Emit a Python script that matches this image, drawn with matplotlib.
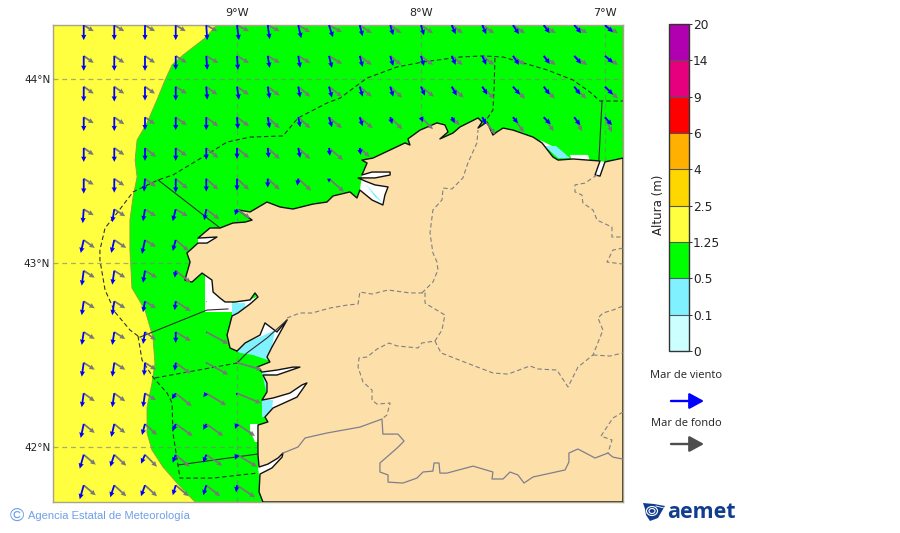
import numpy as np
import matplotlib
matplotlib.use('Agg')
import matplotlib.pyplot as plt
from matplotlib.cm import ScalarMappable
from matplotlib.colors import BoundaryNorm, ListedColormap
from matplotlib.patches import FancyArrowPatch, Polygon, Ellipse

# mapa: lon/lat
lon_ticks = [-9, -8, -7]
lon_labels = ['9°W', '8°W', '7°W']
lat_ticks = [42, 43, 44]
lat_labels = ['42°N', '43°N', '44°N']

coast_lon = [-8.859, -8.880, -8.875, -8.810, -8.755, -8.750, -8.777, -8.832, -8.880, -8.886, -8.886, -8.832, -8.848, -8.804,
             -8.674, -8.620, -8.647, -8.712, -8.804, -8.864, -8.837, -8.837, -8.859, -8.783, -8.658, -8.696, -8.783, -8.864,
             -8.891, -8.821, -8.837, -8.810, -8.728, -8.783, -8.848, -8.875, -8.956, -9.000, -9.038, -9.054, -9.027, -8.995,
             -8.929, -8.886, -8.902, -8.929, -9.011, -9.065, -9.092, -9.130, -9.136, -9.190, -9.245, -9.283, -9.255, -9.272,
             -9.212, -9.163, -9.109, -9.212, -9.147, -9.092, -9.022, -8.956, -8.918, -8.995, -8.929, -8.837, -8.766, -8.696,
             -8.587, -8.511, -8.478, -8.386, -8.348, -8.332, -8.266, -8.207, -8.196, -8.179, -8.250, -8.304, -8.342, -8.250,
             -8.168, -8.168, -8.266, -8.321, -8.293, -8.321, -8.261,
             -8.087, -8.060, -8.071, -8.005, -7.913, -7.870, -7.853, -7.897, -7.826, -7.788, -7.690, -7.668, -7.690, -7.641,
             -7.609, -7.587, -7.554, -7.500, -7.391, -7.342, -7.283, -7.255, -7.174, -7.027, -7.054, -7.027, -7.000, -6.902, -6.902]
coast_lat = [41.701, 41.755, 41.853, 41.886, 41.945, 41.967, 41.940, 41.907, 41.891, 41.956, 42.119, 42.136, 42.163, 42.212,
             42.271, 42.348, 42.337, 42.293, 42.266, 42.255, 42.299, 42.348, 42.391, 42.391, 42.434, 42.434, 42.418, 42.407,
             42.434, 42.462, 42.489, 42.543, 42.690, 42.625, 42.674, 42.608, 42.565, 42.521, 42.538, 42.608, 42.712, 42.728,
             42.777, 42.815, 42.837, 42.799, 42.788, 42.788, 42.809, 42.842, 42.907, 42.945, 42.896, 42.907, 43.005, 43.054,
             43.108, 43.108, 43.141, 43.135, 43.190, 43.190, 43.217, 43.222, 43.233, 43.288, 43.277, 43.331, 43.304, 43.293,
             43.320, 43.331, 43.364, 43.386, 43.353, 43.396, 43.342, 43.315, 43.369, 43.413, 43.424, 43.445, 43.462, 43.462,
             43.478, 43.494, 43.494, 43.478, 43.543, 43.559, 43.570,
             43.652, 43.641, 43.674, 43.722, 43.761, 43.750, 43.712, 43.674, 43.706, 43.739, 43.788, 43.766, 43.733, 43.766,
             43.695, 43.712, 43.733, 43.722, 43.684, 43.652, 43.576, 43.559, 43.565, 43.554, 43.478, 43.472, 43.549, 43.570, 41.701]

# limite amarillo / verde
band_lon = [-9.109, -9.174, -9.293, -9.353, -9.391, -9.435, -9.489, -9.543, -9.554, -9.543, -9.565, -9.582, -9.582,
            -9.571, -9.500, -9.457, -9.446, -9.462, -9.489, -9.489, -9.462, -9.402, -9.326, -9.228, -6.902, -6.902]
band_lat = [44.293, 44.222, 44.130, 44.076, 43.994, 43.886, 43.761, 43.668, 43.559, 43.467, 43.358, 43.233, 43.070,
            42.864, 42.744, 42.597, 42.456, 42.347, 42.217, 42.076, 41.983, 41.891, 41.804, 41.701, 41.701, 44.293]

# zonas sin dato y rias
white_zones = [
    ([-9.174, -9.027, -9.027, -9.174], [42.934, 42.934, 42.733, 42.733]),
    ([-9.027, -8.929, -8.886, -8.929, -8.995, -9.027], [42.782, 42.799, 42.820, 42.771, 42.722, 42.712]),
    ([-8.956, -8.875, -8.848, -8.783, -8.723, -8.810, -8.832, -8.902], [42.565, 42.614, 42.679, 42.630, 42.695, 42.538, 42.472, 42.527]),
    ([-8.864, -8.783, -8.658, -8.783, -8.859], [42.407, 42.424, 42.440, 42.385, 42.385]),
    ([-8.864, -8.804, -8.712, -8.620, -8.674, -8.804, -8.848], [42.255, 42.271, 42.299, 42.353, 42.266, 42.206, 42.163]),
    ([-8.929, -8.886, -8.886, -8.902, -8.929], [42.125, 42.125, 42.027, 42.027, 42.092]),
    ([-8.886, -8.750, -8.745, -8.810, -8.880], [41.896, 41.972, 41.956, 41.886, 41.842]),
    ([-7.353, -7.245, -7.245, -7.326], [43.668, 43.614, 43.570, 43.635]),
    ([-7.190, -7.092, -7.082, -7.179], [43.587, 43.587, 43.554, 43.554]),
    ([-7.027, -7.054, -7.027, -7.000], [43.554, 43.478, 43.472, 43.549]),
    ([-8.332, -8.266, -8.207, -8.196, -8.179, -8.250, -8.304, -8.342, -8.250, -8.168, -8.168, -8.266, -8.321],
     [43.396, 43.342, 43.315, 43.369, 43.413, 43.424, 43.445, 43.462, 43.462, 43.478, 43.494, 43.494, 43.478]),
    ([-9.212, -9.109, -9.163, -9.212], [43.135, 43.141, 43.108, 43.108]),
]
pale_zones = [
    ([-9.027, -8.956, -8.956, -9.027], [42.782, 42.782, 42.717, 42.712]),
    ([-9.000, -8.956, -8.864, -8.793, -8.810, -8.832, -8.913, -8.984], [42.521, 42.565, 42.603, 42.635, 42.543, 42.472, 42.500, 42.511]),
    ([-8.864, -8.766, -8.783, -8.837, -8.837], [42.402, 42.391, 42.353, 42.337, 42.282]),
    ([-8.864, -8.804, -8.810, -8.848, -8.864], [42.255, 42.255, 42.201, 42.163, 42.163]),
    ([-7.326, -7.266, -7.190, -7.255], [43.635, 43.635, 43.570, 43.570]),
    ([-8.304, -8.207, -8.250], [43.434, 43.326, 43.359]),
]

# limites de zonas maritimas
dashed_sea = [
    ([-9.538, -9.581, -9.663, -9.717, -9.745, -9.745, -9.717, -9.652, -9.565, -9.429, -9.348, -9.185, -9.054, -8.929,
      -8.750, -8.668, -8.511, -8.440, -8.293, -8.130, -7.989, -7.788, -7.663, -7.554, -7.315, -7.174, -7.082, -7.027, -6.902],
     [42.603, 42.635, 42.733, 42.853, 43.016, 43.070, 43.190, 43.271, 43.386, 43.451, 43.478, 43.576, 43.657, 43.684,
      43.690, 43.788, 43.869, 43.896, 44.005, 44.065, 44.092, 44.119, 44.125, 44.119, 44.049, 43.994, 43.929, 43.880, 43.880]),
    ([-9.538, -9.516, -9.457, -9.380, -9.353, -9.348, -9.321, -9.310, -9.130, -8.891],
     [42.603, 42.472, 42.380, 42.293, 42.239, 42.076, 41.902, 41.831, 41.831, 41.858]),
    ([-9.446, -9.000], [42.375, 42.456]),
    ([-7.598, -7.603, -7.609, -7.663], [44.114, 43.940, 43.831, 43.750]),
]
solid_sea = [
    ([-9.429, -9.092], [43.451, 43.190]),
    ([-9.527, -9.163, -9.049], [42.597, 42.744, 42.750]),
    ([-9.000, -8.946, -8.837, -8.728], [42.456, 42.511, 42.592, 42.690]),
    ([-9.321, -8.886], [41.902, 41.962]),
    ([-7.016, -7.033], [43.880, 43.559]),
]

# provincias y frontera
provinces = [
    ([-8.728, -8.658, -8.592, -8.495, -8.402, -8.342, -8.332, -8.266, -8.179, -8.060, -7.995, -7.978, -7.978, -7.870, -7.886,
      -7.924, -7.995, -8.016, -8.130, -8.174, -8.239, -8.293, -8.337, -8.342, -8.315, -8.266, -8.266, -8.239, -8.168, -8.185, -8.212],
     [42.701, 42.728, 42.728, 42.755, 42.771, 42.777, 42.842, 42.831, 42.853, 42.837, 42.837, 42.842, 42.782, 42.717, 42.635,
      42.576, 42.565, 42.538, 42.549, 42.565, 42.532, 42.489, 42.483, 42.434, 42.353, 42.309, 42.255, 42.233, 42.239, 42.174, 42.152]),
    ([-7.924, -7.891, -7.750, -7.609, -7.527, -7.408, -7.364, -7.261, -7.201, -7.147, -7.065, -7.011, -7.038, -7.011, -6.957, -6.902],
     [42.576, 42.511, 42.456, 42.402, 42.396, 42.440, 42.424, 42.418, 42.326, 42.434, 42.500, 42.635, 42.701, 42.728, 42.744, 42.766]),
    ([-7.065, -6.973, -6.902], [42.500, 42.494, 42.511]),
    ([-7.995, -7.935, -7.908, -7.913, -7.935, -7.951, -7.935, -7.886, -7.880, -7.832, -7.772, -7.745, -7.696, -7.690],
     [42.837, 42.896, 42.962, 43.005, 43.054, 43.163, 43.288, 43.342, 43.407, 43.402, 43.462, 43.543, 43.652, 43.722]),
    ([-7.043, -7.109, -7.163, -7.163, -7.125, -7.120, -7.065, -7.043, -6.962, -6.962, -6.902],
     [43.478, 43.434, 43.424, 43.386, 43.369, 43.326, 43.288, 43.233, 43.195, 43.141, 43.141]),
    ([-6.902, -6.957, -6.989, -6.902], [43.081, 43.070, 43.005, 42.994]),
    ([-6.902, -6.957, -7.022, -6.962, -6.984], [42.190, 42.157, 42.059, 42.038, 41.967]),
]
border_lon = [-8.750, -8.668, -8.630, -8.511, -8.332, -8.212, -8.207, -8.125, -8.092, -8.130, -8.223, -8.223, -8.179, -8.179,
              -8.098, -8.022, -7.989, -7.935, -7.929, -7.902, -7.897, -7.859, -7.717, -7.609, -7.614, -7.554, -7.516, -7.473,
              -7.440, -7.391, -7.217, -7.196, -7.196, -7.147, -7.054, -6.984, -6.957, -6.902]
border_lat = [41.967, 42.000, 42.049, 42.076, 42.108, 42.152, 42.070, 42.070, 42.032, 41.994, 41.913, 41.864, 41.848, 41.809,
              41.804, 41.831, 41.864, 41.869, 41.913, 41.913, 41.858, 41.858, 41.896, 41.864, 41.826, 41.826, 41.864, 41.848,
              41.804, 41.837, 41.875, 41.918, 41.967, 41.989, 41.940, 41.967, 41.945, 41.934]

# rejilla de flechas, cada fila llega hasta la ultima columna con mar
grid_lon = [-9.833, -9.667, -9.5, -9.333, -9.167, -9.0, -8.833, -8.667, -8.5, -8.333, -8.167, -8.0, -7.833, -7.667, -7.5, -7.333, -7.167, -7.0]
grid_lat = [44.292, 44.125, 43.958, 43.792, 43.625, 43.458, 43.292, 43.125, 42.958, 42.792, 42.625, 42.458, 42.292, 42.125, 41.958, 41.792]

wind_east = [
    [0, 0, 0, 0, 1, 2, 2, 3, 4, 3, 3, 3, 4, 4, 6, 6, 7, 8],
    [0, 0, 0, 0, 1, 1, 2, 2, 3, 3, 3, 3, 4, 4, 6, 6, 7, 8],
    [0, 0, 0, 0, 1, 2, 2, 2, 3, 3, 3, 4, 5, 5, 7, 6, 6, 8],
    [0, 0, 0, 0, 0, 1, 2, 2, 3, 3, 2, 2, 3, 4, 5, 7, 6, 7],
    [0, 0, 0, 0, 0, 0, 1, 2, 1, 1],
    [0, 0, -1, 0, 0, 0, 0, -1, 0],
    [-1, -2, -2, -3, -2, -2],
    [-3, -3, -3, -3],
    [-2, -2, -2, -1],
    [-2, -2, -2, -1, 0],
    [-2, -2, -2, 0, 0],
    [-2, -2, -1, -1, 0, 0],
    [-2, -2, -2, -4, -3, -1],
    [-3, -3, -3, -3, -3, -2],
    [-4, -4, -4, -3, -3, -2],
    [-4, -4, -4, -3, -3, -1],
]
wind_south = [
    [15, 15, 15, 15, 15, 15, 14, 13, 12, 11, 10, 10, 9, 9, 9, 8, 8, 7],
    [15, 15, 15, 14, 14, 14, 12, 12, 12, 11, 10, 10, 9, 9, 9, 8, 8, 7],
    [15, 15, 14, 14, 13, 13, 12, 11, 11, 10, 10, 9, 9, 8, 8, 8, 8, 8],
    [14, 14, 13, 13, 13, 12, 11, 10, 10, 9, 7, 5, 6, 7, 6, 7, 8, 8],
    [14, 14, 13, 13, 12, 11, 10, 10, 8, 7],
    [15, 14, 13, 14, 13, 12, 9, 7, 4],
    [14, 13, 12, 12, 11, 6],
    [13, 13, 14, 11],
    [15, 14, 12, 7],
    [14, 14, 11, 9, 1],
    [13, 13, 12, 11, 1],
    [14, 14, 13, 8, 1, 0],
    [14, 14, 14, 6, 4, 2],
    [14, 13, 11, 7, 6, 5],
    [14, 12, 9, 8, 8, 5],
    [14, 12, 11, 10, 10, 7],
]
swell_east = [
    [10, 10, 10, 10, 11, 12, 12, 12, 13, 12, 11, 12, 11, 12, 12, 12, 13, 13],
    [10, 10, 10, 11, 12, 12, 12, 12, 13, 12, 11, 12, 11, 12, 12, 12, 13, 13],
    [10, 10, 10, 11, 11, 12, 12, 12, 13, 12, 12, 13, 12, 12, 12, 11, 12, 13],
    [10, 10, 10, 11, 12, 12, 12, 12, 13, 13, 12, 12, 8, 13, 11, 10, 8, 7],
    [10, 10, 11, 11, 12, 12, 12, 12, 14, 10],
    [10, 10, 11, 12, 12, 12, 12, 13, 15],
    [10, 11, 11, 12, 13, 13],
    [11, 12, 11, 13],
    [11, 11, 12, 15],
    [11, 11, 11, 15, 0],
    [11, 11, 11, 15, 22],
    [11, 11, 11, 15, 22, 25],
    [11, 11, 11, 16, 20, 24],
    [11, 11, 12, 17, 17, 18],
    [12, 12, 12, 14, 16, 20],
    [12, 12, 12, 13, 14, 18],
]
swell_south = [
    [6, 6, 6, 6, 6, 6, 6, 7, 7, 8, 8, 8, 8, 8, 8, 8, 8, 8],
    [7, 7, 7, 7, 7, 7, 7, 7, 8, 9, 9, 9, 9, 9, 9, 9, 9, 9],
    [7, 7, 7, 7, 8, 8, 9, 10, 10, 10, 11, 10, 11, 12, 12, 12, 12, 12],
    [6, 7, 7, 8, 9, 9, 11, 11, 11, 11, 12, 12, 8, 17, 15, 14, 14, 15],
    [7, 7, 9, 8, 10, 10, 11, 11, 12, 9],
    [6, 7, 8, 10, 11, 11, 11, 12, 13],
    [6, 7, 7, 7, 10, 9],
    [8, 8, 7, 11],
    [7, 7, 7, 12],
    [7, 7, 7, 10, 0],
    [7, 7, 8, 9, 12],
    [7, 7, 7, 11, 12, 7],
    [8, 8, 7, 13, 12, 10],
    [9, 9, 11, 12, 12, 12],
    [10, 11, 12, 12, 11, 12],
    [10, 11, 11, 11, 11, 12],
]

# escala de altura
levels = [0, 0.1, 0.5, 1.25, 2.5, 4, 6, 9, 14, 20]
level_labels = ['0', '0.1', '0.5', '1.25', '2.5', '4', '6', '9', '14', '20']
level_colors = ['#ccffff', '#80f2ff', '#00ff00', '#ffff40', '#ffd700', '#ffb000', '#ff0000', '#e6007e', '#b000b0']

YELLOW = '#ffff40'
GREEN = '#00ff00'
PALE = '#80f2ff'
LAND = '#fddfa9'
W, H = 900, 533


def flatten(east, south):
    x, y, u, v = [], [], [], []
    for i, row in enumerate(east):
        for j, val in enumerate(row):
            if val == 0 and south[i][j] == 0:
                continue
            x.append(grid_lon[j])
            y.append(grid_lat[i])
            u.append(val)
            v.append(-south[i][j])
    return x, y, u, v


fig = plt.figure(figsize=(W / 100, H / 100), dpi=100)
ax = fig.add_axes([53 / W, 1 - 502 / H, 570 / W, 477 / H])
ax.set_facecolor(YELLOW)
ax.set_xlim(-10.0, -6.902)
ax.set_ylim(41.701, 44.293)

ax.fill(band_lon, band_lat, facecolor=GREEN, edgecolor='#8fa040', lw=0.6, zorder=1)
for zx, zy in white_zones:
    ax.fill(zx, zy, color='white', lw=0, zorder=2)
for zx, zy in pale_zones:
    ax.fill(zx, zy, color=PALE, lw=0, zorder=3)
ax.fill(coast_lon, coast_lat, facecolor=LAND, edgecolor='#111111', lw=1.0, joinstyle='round', zorder=4)

for px, py in provinces:
    ax.plot(px, py, color='#808080', lw=0.8, ls=(0, (4, 2.5)), zorder=5)
ax.plot(border_lon, border_lat, color='#7f7f8c', lw=0.9, zorder=5)
for px, py in dashed_sea:
    ax.plot(px, py, color='#303030', lw=0.8, ls=(0, (4, 2.5)), zorder=6)
for px, py in solid_sea:
    ax.plot(px, py, color='#303030', lw=0.8, zorder=6)

ax.set_xticks(lon_ticks)
ax.set_xticklabels(lon_labels, fontsize=8)
ax.set_yticks(lat_ticks)
ax.set_yticklabels(lat_labels, fontsize=7.6)
ax.xaxis.tick_top()
ax.tick_params(length=0, colors='#222222')
ax.tick_params(axis='x', pad=5)
ax.tick_params(axis='y', pad=2)
ax.grid(True, color='#808080', alpha=0.65, lw=0.9, ls=(0, (4, 3)), zorder=6)
ax.set_axisbelow(False)
for s in ax.spines.values():
    s.set_color('#a8a488')
    s.set_linewidth(1.0)

arrow_style = dict(angles='uv', scale_units='dots', scale=1, units='dots', pivot='tail', width=1.8,
                   headwidth=2.9, headlength=3.0, headaxislength=2.8, minlength=0.4, zorder=7)
x, y, u, v = flatten(swell_east, swell_south)
ax.quiver(x, y, u, v, color='#787878', **arrow_style)
x, y, u, v = flatten(wind_east, wind_south)
ax.quiver(x, y, u, v, color='#0000ff', **arrow_style)

# barra de color
cax = fig.add_axes([669 / W, 1 - 351 / H, 20 / W, 327 / H])
sm = ScalarMappable(norm=BoundaryNorm(levels, len(level_colors)), cmap=ListedColormap(level_colors))
cb = fig.colorbar(sm, cax=cax, spacing='uniform', ticks=levels, drawedges=True)
cb.ax.set_yticklabels(level_labels, fontsize=8.8, color='#222222')
cb.ax.tick_params(length=2.5, width=0.7, pad=0.5, color='#333333')
cb.outline.set_edgecolor('#333333')
cb.outline.set_linewidth(1.0)
cb.dividers.set_color('#555555')
cb.dividers.set_linewidth(0.8)
cb.ax.yaxis.set_label_position('left')
cb.set_label('Altura (m)', fontsize=8.5, color='#222222')
cb.ax.yaxis.set_label_coords(-0.2, 0.447)

# leyenda de flechas
fig.text(686 / W, 1 - 376 / H, 'Mar de viento', fontsize=8, family='Open Sans', ha='center', va='center', color='#222222')
fig.text(686 / W, 1 - 423 / H, 'Mar de fondo', fontsize=8, family='Open Sans', ha='center', va='center', color='#222222')
fig.add_artist(FancyArrowPatch((671 / W, 1 - 401 / H), (704 / W, 1 - 401 / H), transform=fig.transFigure,
                               arrowstyle='-|>,head_length=0.55,head_width=0.3', mutation_scale=16, color='#0000ff', lw=1.7,
                               shrinkA=0, shrinkB=0))
fig.add_artist(FancyArrowPatch((671 / W, 1 - 444 / H), (704 / W, 1 - 444 / H), transform=fig.transFigure,
                               arrowstyle='-|>,head_length=0.55,head_width=0.3', mutation_scale=16, color='#4d4d4d', lw=1.7,
                               shrinkA=0, shrinkB=0))

# pie
fig.text(10 / W, 1 - 516 / H, '©', fontsize=14, family='Liberation Sans', color='#6f9fe8', ha='left', va='center')
fig.text(28 / W, 1 - 516 / H, 'Agencia Estatal de Meteorología', fontsize=8, family='Liberation Sans', color='#6f9fe8',
         ha='left', va='center')

# logo
logo = fig.add_axes([642 / W, 1 - 523 / H, 24 / W, 21 / H])
logo.set_xlim(0, 24)
logo.set_ylim(21, 0)
logo.axis('off')
logo.add_patch(Polygon([[1, 1], [12, 2], [23, 4], [20, 9], [16, 16], [8, 19], [4, 13], [3, 7]], color='#123d8f', lw=0))
for rw, rh in [(11, 9), (6, 5)]:
    logo.add_patch(Ellipse((10, 9), rw, rh, fill=False, edgecolor='white', lw=0.8))
logo.plot([14, 22], [4, 6], color='white', lw=0.6)
fig.text(667 / W, 1 - 513 / H, 'aemet', fontsize=15.5, family='Open Sans', weight='bold', color='#123d8f', ha='left', va='center')

fig.savefig('out.png', dpi=100)
